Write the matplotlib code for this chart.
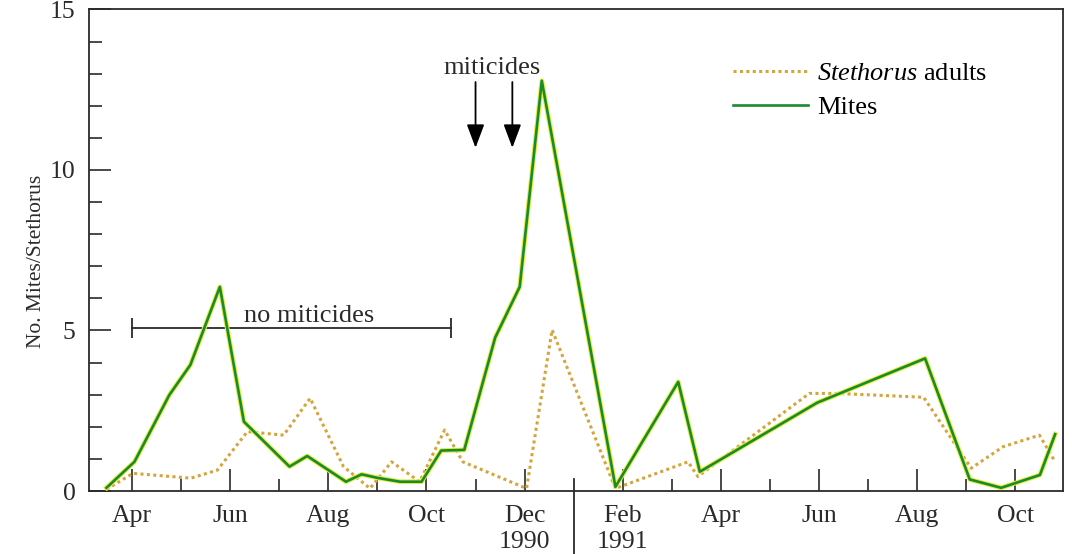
import numpy as np
import matplotlib
matplotlib.use("Agg")
import matplotlib.pyplot as plt
from matplotlib.ticker import FixedLocator, MultipleLocator

# ===============================
# Data (time in months since Jan 1990)
# ===============================
mites_t = [2.48, 3.05, 3.76, 4.19, 4.79, 5.28, 6.21, 6.57, 7.36, 7.68, 8.0, 8.46, 8.9,
           9.3, 9.77, 10.4, 10.9, 11.35, 12.85, 14.13, 14.57, 16.96, 19.16, 20.07,
           20.71, 21.5, 21.81]
mites = [0.1, 0.91, 2.99, 3.93, 6.36, 2.16, 0.76, 1.09, 0.29, 0.52, 0.41, 0.29, 0.29,
         1.26, 1.28, 4.78, 6.36, 12.78, 0.13, 3.40, 0.60, 2.75, 4.13, 0.36,
         0.10, 0.50, 1.77]

steth_t = [2.48, 3.02, 4.2, 4.74, 5.35, 6.09, 6.63, 7.31, 7.85, 8.29, 8.86, 9.37, 9.74,
           11.04, 11.56, 12.85, 14.33, 14.53, 16.8, 17.37, 19.13, 20.1, 20.75, 21.49, 21.81]
stethorus = [0.05, 0.55, 0.40, 0.65, 1.85, 1.74, 2.89, 0.76, 0.08, 0.91, 0.29, 1.90, 0.91,
             0.08, 5.02, 0.08, 0.91, 0.45, 3.04, 3.04, 2.92, 0.71, 1.38, 1.74, 0.91]

month_ticks = [3, 5, 7, 9, 11, 13, 15, 17, 19, 21]
month_labels = ["Apr", "Jun", "Aug", "Oct", "Dec\n1990", "Feb\n1991",
                "Apr", "Jun", "Aug", "Oct"]
minor_months = [4, 6, 8, 10, 14, 16, 18, 20]
year_break = 12

no_spray = (3.0, 9.51, 5.08)      # start, end, level
no_spray_label_t = 6.61
spray_times = [10.0, 10.75]

plt.rcParams["font.family"] = "Liberation Serif"
plt.rcParams["mathtext.fontset"] = "custom"
plt.rcParams["mathtext.rm"] = "Liberation Serif"
plt.rcParams["mathtext.it"] = "Liberation Serif:italic"

ink = "#2a2a2a"
fs = 19
fig = plt.figure(figsize=(10.72, 5.54), dpi=100)
ax = fig.add_axes([0.0833, 0.1137, 0.9083, 0.8692])

# lines
ax.plot(steth_t, stethorus, color="#d6a43c", lw=2.2, ls=(0, (1, 1.1)),
        label=r"$\it{Stethorus}$ adults", zorder=3)
ax.plot(mites_t, mites, color="#e4ee3a", lw=3.4, zorder=3.5)
ax.plot(mites_t, mites, color="#1b8a2e", lw=1.9, label="Mites", zorder=4)

# no miticides bar
x0, x1, lev = no_spray
ax.plot([x0, x1], [lev, lev], color=ink, lw=1.3)
ax.vlines([x0, x1], lev - 0.32, lev + 0.32, color=ink, lw=1.3)
ax.text(no_spray_label_t, lev + 0.2, "no miticides", ha="center", va="baseline",
        fontsize=fs, color=ink)

# miticide arrows
for t in spray_times:
    ax.annotate("", xy=(t, 10.69), xytext=(t, 12.74),
                arrowprops=dict(arrowstyle="-|>,head_length=0.72,head_width=0.27",
                                color="black", lw=1.3, mutation_scale=20,
                                shrinkA=0, shrinkB=0))
ax.text(np.mean(spray_times) - 0.04, 12.98, "miticides", ha="center", va="baseline",
        fontsize=fs, color=ink)

# axes
ax.set_xlim(2.13, 21.97)
ax.set_ylim(0, 15)
ax.xaxis.set_major_locator(FixedLocator(month_ticks))
ax.set_xticklabels(month_labels, linespacing=1.25)
ax.xaxis.set_minor_locator(FixedLocator(minor_months))
ax.yaxis.set_major_locator(MultipleLocator(5))
ax.yaxis.set_minor_locator(MultipleLocator(1))
ax.tick_params(which="both", direction="in", colors=ink, labelsize=18.5,
               top=False, right=False)
ax.tick_params(which="major", length=16, width=1.2, pad=10)
ax.tick_params(which="minor", length=9, width=1.2)
ax.tick_params(axis="y", which="major", pad=10)
for sp in ax.spines.values():
    sp.set_color(ink)
    sp.set_linewidth(1.3)

# year separator
ax.plot([year_break, year_break], [0.025, -0.131], color=ink, lw=1.3,
        transform=ax.get_xaxis_transform(), clip_on=False)

ax.set_ylabel("No. Mites/Stethorus", fontsize=15.5, color=ink)
ax.yaxis.set_label_coords(-0.044, 0.476)

ax.legend(loc="upper left", bbox_to_anchor=(0.684, 0.889),
          bbox_transform=fig.transFigure, frameon=False, fontsize=fs,
          handlelength=2.85, handletextpad=0.34, labelspacing=0.4,
          borderpad=0, borderaxespad=0)

fig.savefig("out.png", dpi=100)
